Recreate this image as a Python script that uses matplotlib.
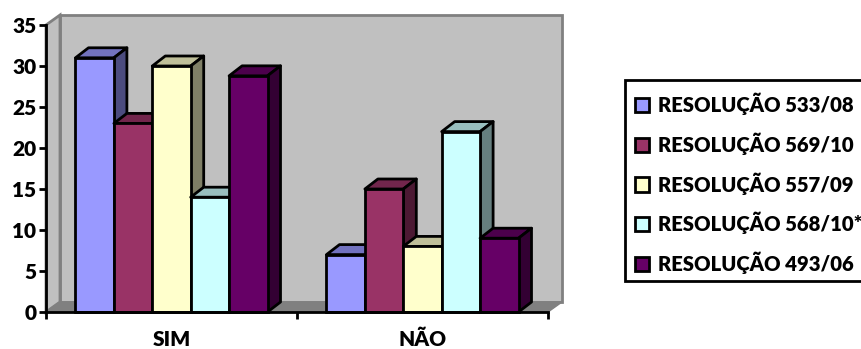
import matplotlib
matplotlib.use("Agg")
import matplotlib.pyplot as plt
from matplotlib.patches import Polygon, Patch, Rectangle
from matplotlib.font_manager import FontProperties

# Heavy sans-serif used for every label on the chart
label_font = FontProperties(family="Lato", weight=800)

categories = ["SIM", "NÃO"]
series_names = ["RESOLUÇÃO 533/08", "RESOLUÇÃO 569/10", "RESOLUÇÃO 557/09",
                "RESOLUÇÃO 568/10*", "RESOLUÇÃO 493/06"]
res_533 = [31, 7]
res_569 = [23, 15]
res_557 = [30, 8]
res_568 = [14, 22]
res_493 = [28.8, 9]
series_values = [res_533, res_569, res_557, res_568, res_493]
y_ticks = [0, 5, 10, 15, 20, 25, 30, 35]

front = ["#9999FF", "#993366", "#FFFFCC", "#CCFFFF", "#660066"]
top = ["#7272BF", "#72264C", "#BFBF99", "#99BFBF", "#4C004C"]
side = ["#4C4C7F", "#4C1933", "#7F7F66", "#667F7F", "#330033"]

W, H = 861, 349
fig = plt.figure(figsize=(W / 100, H / 100), dpi=100, facecolor="white")
# Plot rectangle of the front plane, in figure fractions
x0, x1, y_base, y_top = 46, 548, 312, 25
ax = fig.add_axes([x0 / W, 1 - y_base / H, (x1 - x0) / W, (y_base - y_top) / H])
ax.set_xlim(0, 2)
ax.set_ylim(0, 35)
ax.patch.set_visible(False)

# Depth of the pseudo-3D extrusion, converted from pixels to data units
px_x = 2 / (x1 - x0)
px_y = 35 / (y_base - y_top)
wall_dx, wall_dy = 14 * px_x, 10 * px_y
bar_dx, bar_dy = 13 * px_x, 10 * px_y

# Walls and floor
ax.add_patch(Polygon([(wall_dx, wall_dy), (2 + wall_dx, wall_dy), (2 + wall_dx, 35 + wall_dy), (wall_dx, 35 + wall_dy)],
                     closed=True, fc="#C0C0C0", ec="#808080", lw=2, clip_on=False, zorder=1))
ax.add_patch(Polygon([(0, 0), (wall_dx, wall_dy), (wall_dx, 35 + wall_dy), (0, 35)],
                     closed=True, fc="#C0C0C0", ec="#808080", lw=2, clip_on=False, zorder=1))
ax.add_patch(Polygon([(0, 0), (wall_dx, wall_dy), (2 + wall_dx, wall_dy), (2, 0)],
                     closed=True, fc="#808080", ec="#808080", lw=1, clip_on=False, zorder=1))

# Bars, painted left to right so each one overlaps its neighbour's side face
bar_w = 0.153
n = len(series_values)
z = 2
for c in range(len(categories)):
    left = c + 0.5 - n * bar_w / 2
    for s, values in enumerate(series_values):
        v = values[c]
        a, b = left + s * bar_w, left + (s + 1) * bar_w
        kw = dict(closed=True, ec="black", lw=2, joinstyle="round", clip_on=False)
        ax.add_patch(Polygon([(a, v), (b, v), (b + bar_dx, v + bar_dy), (a + bar_dx, v + bar_dy)],
                             fc=top[s], zorder=z, **kw))
        ax.add_patch(Polygon([(b, 0), (b + bar_dx, bar_dy), (b + bar_dx, v + bar_dy), (b, v)],
                             fc=side[s], zorder=z, **kw))
        ax.bar(a, v, width=bar_w, align="edge", color=front[s], edgecolor="black",
               linewidth=2, zorder=z + 1, clip_on=False)
        z += 2

# Axes and ticks
for name in ("top", "right"):
    ax.spines[name].set_visible(False)
for name in ("left", "bottom"):
    ax.spines[name].set_linewidth(2)
    ax.spines[name].set_zorder(z + 1)
ax.set_yticks(y_ticks)
ax.set_xticks([0, 1, 2])
ax.set_xticklabels([])
ax.set_xticks([0.5, 1.5], labels=categories, minor=True)
ax.tick_params(axis="y", length=5, width=2, pad=2)
ax.tick_params(axis="x", which="major", length=5, width=2)
ax.tick_params(axis="x", which="minor", length=0, pad=13)
for t in ax.get_yticklabels():
    t.set_fontproperties(label_font)
    t.set_fontsize(15)
for t in ax.get_xticklabels(minor=True):
    t.set_fontproperties(label_font)
    t.set_fontsize(15)

# Legend frame runs off the right edge of the figure, entries sit slightly low inside it
fig.add_artist(Rectangle((625 / W, 1 - 281 / H), 260 / W, 201 / H, transform=fig.transFigure,
                         fc="white", ec="black", lw=2))
handles = [Patch(facecolor=f, edgecolor="black", linewidth=2) for f in front]
legend_font = label_font.copy()
legend_font.set_size(14.6)
leg = fig.legend(handles, series_names, loc="upper left",
                 bbox_to_anchor=(625 / W, 1 - 83 / H), bbox_transform=fig.transFigure,
                 prop=legend_font, frameon=False,
                 handlelength=0.7, handleheight=0.7, handletextpad=0.45,
                 labelspacing=0.85, borderpad=0.49, borderaxespad=0)

fig.savefig("out.png", dpi=100)
